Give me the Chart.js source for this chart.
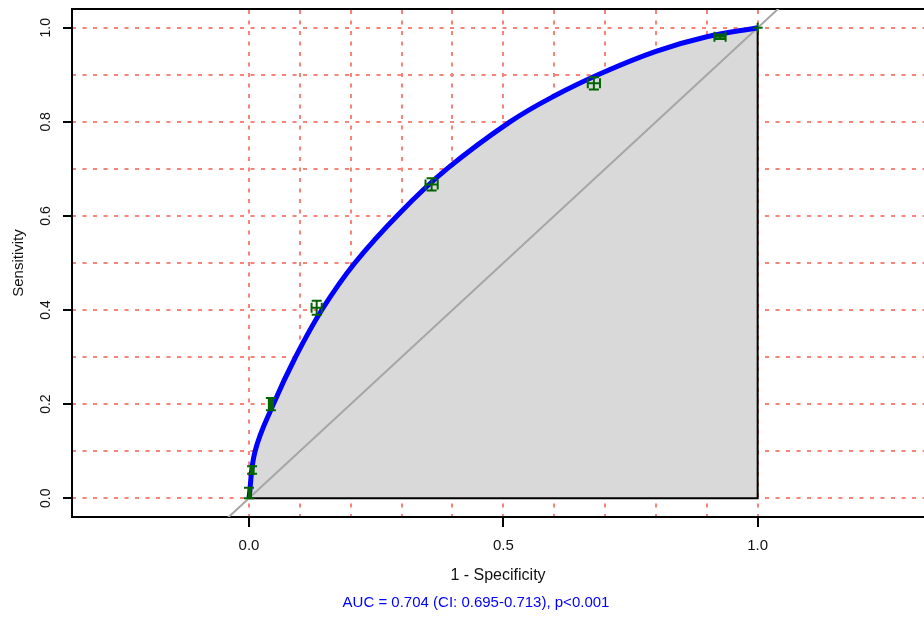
<!DOCTYPE html>
<html>
<head>
<meta charset="utf-8">
<title>ROC curve</title>
<script src="https://cdn.jsdelivr.net/npm/chart.js@4.4.1/dist/chart.umd.min.js"></script>
<style>
  html, body { margin: 0; padding: 0; background: #fff; }
  canvas { display: block; }
</style>
</head>
<body>
<canvas id="rocChart" width="924" height="622"></canvas>
<script>
// smoothed ROC curve (1 - specificity, sensitivity)
const curveFpr  = [0, 0.012, 0.048, 0.090, 0.143, 0.208, 0.297, 0.389, 0.513, 0.600, 0.696, 0.800, 0.900, 1.000];
const curveSens = [0, 0.100, 0.200, 0.297, 0.400, 0.500, 0.607, 0.700, 0.800, 0.855, 0.905, 0.950, 0.981, 1.000];

// empirical thresholds with their confidence bars
const ptFpr    = [0.000, 0.006, 0.043, 0.133, 0.359, 0.678, 0.926, 1.000];
const ptSens   = [0.010, 0.060, 0.200, 0.405, 0.667, 0.882, 0.981, 1.000];
const ptSensLo = [0.000, 0.052, 0.187, 0.390, 0.654, 0.869, 0.976, 1.000];
const ptSensHi = [0.022, 0.068, 0.213, 0.420, 0.680, 0.895, 0.986, 1.000];
const ptFprLo  = [0.000, 0.004, 0.039, 0.123, 0.347, 0.666, 0.915, 1.000];
const ptFprHi  = [0.003, 0.009, 0.047, 0.143, 0.371, 0.690, 0.937, 1.000];

// chance line and the box closing the shaded area
const diagVals = [-0.1, 1.1];
const boxFpr   = [0, 1, 1];
const boxSens  = [0, 0, 1];

const xTicks   = [0, 0.5, 1];
const yTicks   = [0, 0.2, 0.4, 0.6, 0.8, 1];
const gridVals = [0, 0.1, 0.2, 0.3, 0.4, 0.5, 0.6, 0.7, 0.8, 0.9, 1];

const xRange = [-0.348, 1.327];
const yRange = [-0.04, 1.04];

const aucText = 'AUC = 0.704 (CI: 0.695-0.713), p<0.001';

const gridRed = '#f88378';
const gridDash = [4, 6.5];

Chart.defaults.font.family = "'Liberation Sans', Arial, sans-serif";
Chart.defaults.color = '#111';

const toPoints = (xs, ys) => xs.map((v, i) => ({ x: v, y: ys[i] }));
const setTicks = vals => scale => { scale.ticks = vals.map(v => ({ value: v })); };

// pROC style bars: sensitivity CI vertical, specificity CI horizontal
const ciBars = {
    id: 'ciBars',
    afterDatasetsDraw(chart) {
        const { ctx, scales: { x, y } } = chart;
        const cap = 5;
        ctx.save();
        ctx.strokeStyle = '#006400';
        ctx.lineWidth = 2;
        ctx.beginPath();
        for (let i = 0; i < ptFpr.length; i++) {
            const px = x.getPixelForValue(ptFpr[i]);
            const py = y.getPixelForValue(ptSens[i]);
            const sLo = y.getPixelForValue(ptSensLo[i]);
            const sHi = y.getPixelForValue(ptSensHi[i]);
            const fLo = x.getPixelForValue(ptFprLo[i]);
            const fHi = x.getPixelForValue(ptFprHi[i]);
            ctx.moveTo(px, sLo); ctx.lineTo(px, sHi);
            ctx.moveTo(px - cap, sLo); ctx.lineTo(px + cap, sLo);
            ctx.moveTo(px - cap, sHi); ctx.lineTo(px + cap, sHi);
            ctx.moveTo(fLo, py); ctx.lineTo(fHi, py);
            ctx.moveTo(fLo, py - cap); ctx.lineTo(fLo, py + cap);
            ctx.moveTo(fHi, py - cap); ctx.lineTo(fHi, py + cap);
        }
        ctx.stroke();
        ctx.restore();
    }
};

// AUC line under the axis title (source figure was wider than this crop)
const aucNote = {
    id: 'aucNote',
    afterDraw(chart) {
        const ctx = chart.ctx;
        ctx.save();
        ctx.font = "15px 'Liberation Sans', Arial, sans-serif";
        ctx.fillStyle = '#0000ff';
        ctx.textAlign = 'center';
        ctx.textBaseline = 'middle';
        ctx.fillText(aucText, 476, 603);
        ctx.restore();
    }
};

new Chart(document.getElementById('rocChart'), {
    type: 'line',
    data: {
        datasets: [
            {
                label: 'ROC',
                data: toPoints(curveFpr, curveSens),
                borderColor: '#0000ff',
                borderWidth: 5,
                backgroundColor: '#d9d9d9',
                fill: 'origin',
                tension: 0.4,
                pointRadius: 0,
                xAxisID: 'x', yAxisID: 'y',
                order: 0
            },
            {
                label: 'box',
                data: toPoints(boxFpr, boxSens),
                borderColor: '#000',
                borderWidth: 2,
                fill: false,
                tension: 0,
                pointRadius: 0,
                xAxisID: 'x', yAxisID: 'y',
                order: 1
            },
            {
                label: 'chance',
                data: toPoints(diagVals, diagVals),
                borderColor: '#a6a6a6',
                borderWidth: 2,
                fill: false,
                pointRadius: 0,
                clip: 0,
                xAxisID: 'x', yAxisID: 'y',
                order: 2
            }
        ]
    },
    options: {
        responsive: false,
        animation: false,
        devicePixelRatio: 1,
        layout: { padding: { top: 9, left: 0, right: 0, bottom: 0 } },
        plugins: {
            legend: { display: false },
            tooltip: { enabled: false },
            filler: { drawTime: 'beforeDatasetsDraw' }
        },
        scales: {
            x: {
                type: 'linear', position: 'bottom',
                min: xRange[0], max: xRange[1],
                afterBuildTicks: setTicks(xTicks),
                afterFit: s => { s.height = 105; s.paddingLeft = 0; s.paddingRight = 0; },
                ticks: { callback: v => v.toFixed(1), maxRotation: 0, autoSkip: false, padding: 10, font: { size: 15 } },
                grid: { drawOnChartArea: false, color: '#000', lineWidth: 2, tickLength: 10 },
                border: { color: '#000', width: 2 },
                title: { display: true, text: '1 - Specificity', font: { size: 16 }, padding: { top: 0, bottom: 37 } }
            },
            y: {
                type: 'linear', position: 'left',
                min: yRange[0], max: yRange[1],
                afterBuildTicks: setTicks(yTicks),
                afterFit: s => { s.width = 72; s.paddingTop = 0; s.paddingBottom = 0; },
                ticks: { callback: v => v.toFixed(1), minRotation: 90, maxRotation: 90, crossAlign: 'center', autoSkip: false, padding: 7, font: { size: 14 } },
                grid: { drawOnChartArea: false, color: '#000', lineWidth: 2, tickLength: 9 },
                border: { color: '#000', width: 2 },
                title: { display: true, text: 'Sensitivity', font: { size: 15 }, padding: { top: 10, bottom: 0 } }
            },
            // grid-only axes, also giving the top frame line
            xg: {
                type: 'linear', position: 'top',
                min: xRange[0], max: xRange[1],
                afterBuildTicks: setTicks(gridVals),
                afterFit: s => { s.height = 0; s.paddingLeft = 0; s.paddingRight = 0; },
                ticks: { display: false },
                grid: { color: gridRed, lineWidth: 2, drawTicks: false },
                border: { display: true, color: '#000', width: 2, dash: gridDash }
            },
            yg: {
                type: 'linear', position: 'right',
                min: yRange[0], max: yRange[1],
                afterBuildTicks: setTicks(gridVals),
                afterFit: s => { s.width = 0; s.paddingTop = 0; s.paddingBottom = 0; },
                ticks: { display: false },
                grid: { color: gridRed, lineWidth: 2, drawTicks: false },
                border: { display: false, dash: gridDash }
            }
        }
    },
    plugins: [ciBars, aucNote]
});
</script>
</body>
</html>
